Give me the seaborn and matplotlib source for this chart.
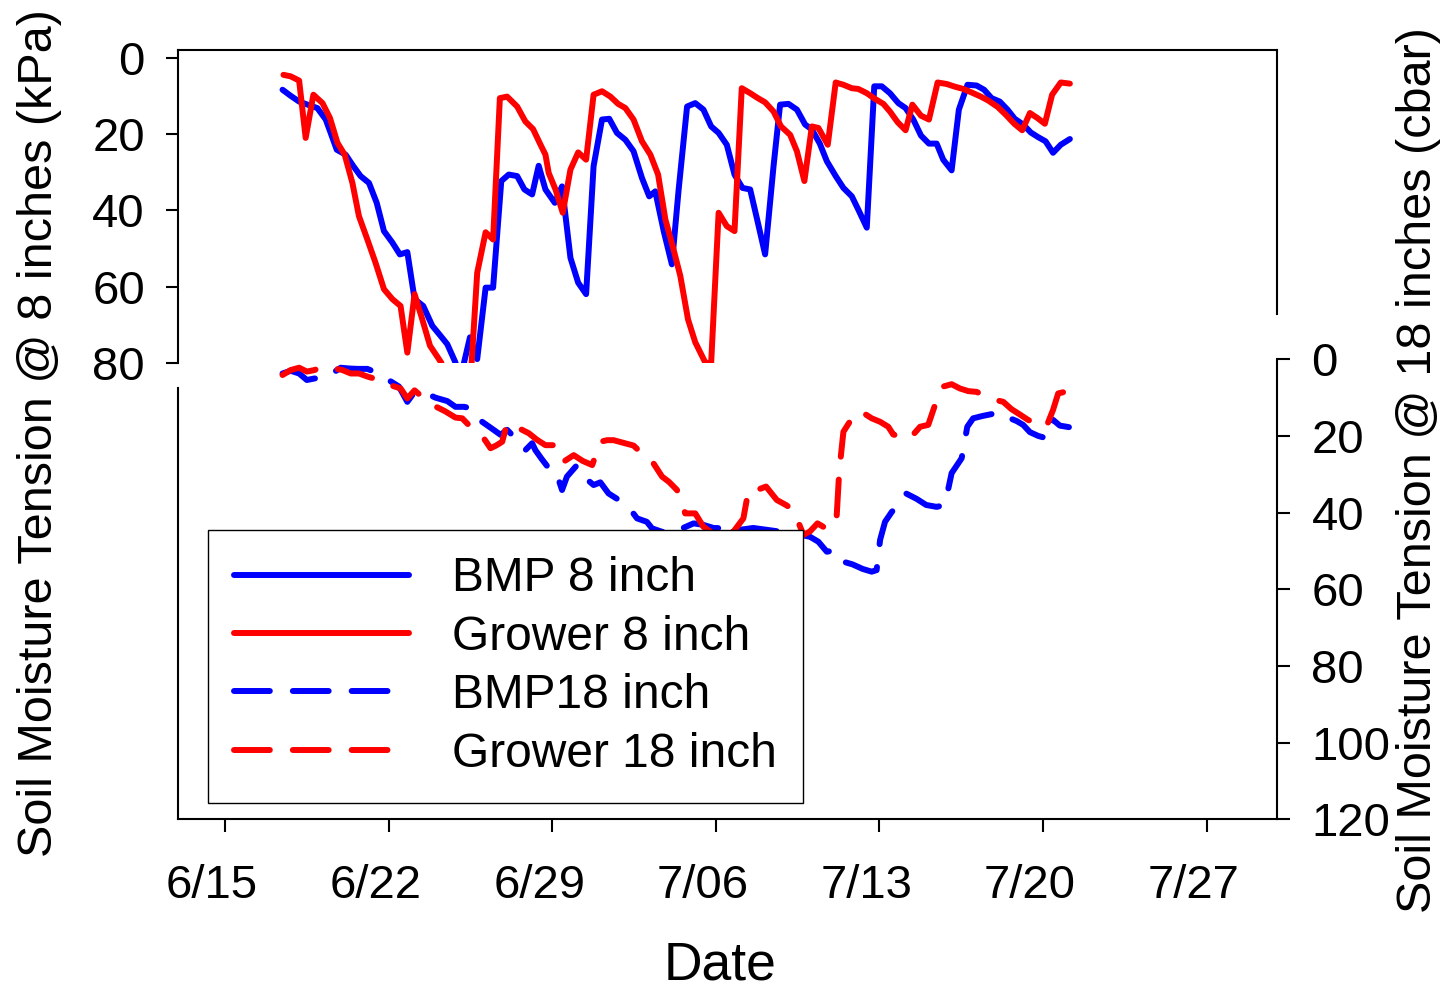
"""
Soil moisture tension at 8 and 18 inch depth, BMP vs grower plots.
Two stacked axes share one date axis (SigmaPlot-style broken frame).
"""

import matplotlib
import matplotlib.pyplot as plt
import matplotlib.transforms as mtransforms
import pandas as pd
import seaborn as sns

matplotlib.use("Agg")

START = pd.Timestamp("2015-06-15")

# --- 8 inch sensors (kPa), days after 6/15 ---------------------------------
bmp8_days = [2.46, 2.81, 3.17, 3.53, 3.95, 4.31, 4.52, 4.78, 5.16, 5.49, 5.80, 6.16, 6.49, 6.80,
             7.16, 7.48, 7.80, 8.11, 8.48, 8.87, 9.22, 9.51, 9.86, 10.04, 10.22, 10.48, 10.79,
             11.15, 11.47, 11.82, 12.14, 12.50, 12.81, 13.14, 13.42, 13.71, 14.11, 14.42, 14.78,
             15.11, 15.45, 15.77, 16.13, 16.44, 16.77, 17.13, 17.48, 17.84, 18.15, 18.41, 18.77,
             19.12, 19.41, 19.77, 20.12, 20.47, 20.80, 21.12, 21.47, 21.80, 22.14, 22.47, 22.80,
             23.11, 23.47, 23.75, 24.11, 24.47, 24.82, 25.11, 25.45, 25.75, 26.13, 26.46, 26.82,
             27.13, 27.46, 27.78, 28.10, 28.45, 28.81, 29.12, 29.45, 29.78, 30.12, 30.45, 30.73,
             31.09, 31.40, 31.77, 32.16, 32.48, 32.80, 33.15, 33.48, 33.79, 34.15, 34.48, 34.79,
             35.11, 35.43, 35.76, 36.15]
bmp8_kpa = [8.4, 10.0, 11.5, 12.3, 13.2, 16.2, 19.7, 24.1, 25.4, 28.4, 31.0, 32.8, 38.0, 45.4,
            48.4, 51.5, 50.9, 63.2, 65.0, 70.2, 72.8, 75.0, 79.8, 86.0, 80.0, 73.2, 78.9,
            60.2, 60.2, 32.3, 30.6, 31.0, 34.5, 35.8, 28.3, 34.5, 38.0, 33.7, 52.4,
            58.9, 61.9, 28.4, 16.2, 16.0, 19.7, 21.5, 24.5, 31.5, 36.3, 35.0, 45.4,
            54.1, 34.5, 12.8, 11.9, 13.6, 18.0, 19.7, 22.8, 30.6, 34.1, 34.5, 43.2,
            51.5, 28.4, 12.3, 12.1, 13.6, 17.5, 18.8, 22.5, 27.1, 31.0, 34.1, 36.3,
            40.2, 44.5, 7.5, 7.5, 9.3, 11.9, 13.2, 16.2, 20.4, 22.5, 22.5, 26.7,
            29.5, 13.6, 7.1, 7.3, 8.4, 10.6, 11.5, 13.6, 16.0, 17.5, 19.6, 20.8,
            21.9, 24.9, 22.8, 21.3]

grower8_days = [2.50, 2.81, 3.17, 3.45, 3.78, 4.17, 4.49, 4.81, 5.12, 5.45, 5.73, 6.09, 6.44,
                6.80, 7.16, 7.51, 7.80, 8.11, 8.44, 8.77, 9.25, 9.60, 10.20, 10.55, 10.79,
                11.15, 11.47, 11.76, 12.07, 12.50, 12.85, 13.18, 13.50, 13.71, 13.85, 14.14,
                14.45, 14.78, 15.11, 15.45, 15.77, 16.13, 16.49, 16.82, 17.13, 17.48, 17.84,
                18.20, 18.53, 18.84, 19.19, 19.48, 19.81, 20.12, 20.55, 20.80, 21.12, 21.47,
                21.80, 22.11, 22.47, 22.80, 23.11, 23.47, 23.79, 24.18, 24.47, 24.79, 25.11,
                25.39, 25.79, 26.13, 26.46, 26.82, 27.10, 27.46, 27.81, 28.17, 28.45, 28.78,
                29.12, 29.41, 29.78, 30.12, 30.49, 30.88, 31.23, 31.59, 31.94, 32.34, 32.65,
                33.06, 33.40, 33.77, 34.11, 34.44, 34.76, 35.08, 35.39, 35.76, 36.15]
grower8_kpa = [4.5, 4.9, 6.0, 21.0, 9.7, 11.9, 15.8, 22.3, 25.4, 32.8, 41.5, 47.6, 53.7,
               60.6, 63.2, 65.0, 77.2, 61.9, 68.5, 75.4, 79.8, 88.0, 90.0, 80.0, 56.3,
               45.7, 47.6, 10.6, 10.2, 12.8, 16.7, 18.7, 22.8, 25.4, 30.2, 34.5,
               40.6, 29.3, 24.8, 26.7, 9.7, 8.8, 10.2, 12.1, 13.2, 16.2, 21.9,
               25.4, 30.6, 42.3, 50.2, 57.1, 68.5, 74.5, 79.8, 80.0, 40.6, 44.1,
               45.4, 8.0, 9.3, 10.6, 11.7, 14.1, 18.0, 20.2, 24.5, 32.3, 18.0,
               18.4, 22.8, 6.5, 7.1, 8.0, 8.2, 9.3, 10.8, 12.1, 14.1, 16.9,
               19.0, 12.3, 15.2, 16.2, 6.5, 6.9, 7.6, 8.2, 9.1, 10.2, 11.2,
               12.9, 14.9, 17.3, 19.0, 14.5, 15.8, 17.3, 9.7, 6.5, 6.8]

# --- 18 inch sensors (cbar), days after 6/15 -------------------------------
bmp18_days = [2.46, 2.81, 3.17, 3.50, 3.83, 4.17, 4.55, 4.95, 5.31, 5.66, 6.09, 6.37, 6.73,
              7.10, 7.44, 7.80, 8.11, 8.51, 9.00, 9.51, 9.86, 10.22, 10.58, 11.00, 11.40,
              11.79, 12.07, 12.50, 12.85, 13.14, 13.28, 13.55, 13.85, 14.14, 14.42, 14.63,
              15.06, 15.42, 15.77, 16.06, 16.41, 16.80, 17.20, 17.63, 18.05, 18.27, 18.70,
              19.20, 19.60, 20.05, 20.47, 20.90, 21.40, 22.00, 22.60, 23.20, 23.80, 24.40,
              25.03, 25.39, 25.75, 26.10, 26.46, 26.85, 27.29, 27.67, 27.88, 28.03, 28.24,
              28.53, 28.81, 29.14, 29.59, 30.00, 30.45, 30.80, 31.09, 31.52, 31.76, 32.01,
              32.40, 32.80, 33.15, 33.51, 33.87, 34.15, 34.44, 34.80, 35.15, 35.43, 35.72,
              36.11]
bmp18_cbar = [3.7, 3.0, 3.7, 5.4, 5.0, 5.0, 3.8, 2.2, 2.4, 2.5, 2.5, 3.2, 4.5,
              5.8, 7.1, 11.1, 8.5, 8.6, 10.0, 10.9, 12.4, 12.4, 12.8, 16.3, 18.0,
              19.7, 18.4, 21.1, 23.7, 21.9, 23.7, 26.0, 28.4, 28.9, 34.1, 30.6,
              27.6, 31.0, 32.8, 32.1, 35.0, 36.5, 38.0, 41.5, 42.4, 44.1, 45.0,
              45.5, 44.0, 42.8, 43.2, 44.0, 44.1, 44.5, 44.0, 44.5, 45.0, 45.5,
              46.3, 47.6, 50.2, 49.8, 52.8, 53.5, 54.7, 55.4, 55.0, 47.1, 42.4,
              39.8, 38.0, 35.0, 36.4, 38.0, 38.5, 38.0, 29.7, 25.8, 17.6, 15.4,
              14.8, 14.3, 13.8, 15.2, 16.1, 17.1, 19.0, 20.0, 20.6, 15.8, 17.3,
              17.7]

grower18_days = [2.46, 2.81, 3.17, 3.50, 3.83, 4.17, 4.60, 5.02, 5.38, 5.73, 6.09, 6.37, 6.73,
                 7.10, 7.51, 7.80, 8.11, 8.51, 8.94, 9.40, 9.86, 10.15, 10.50, 10.86, 11.07,
                 11.36, 11.60, 11.86, 12.07, 12.43, 12.71, 13.00, 13.35, 13.71, 14.14, 14.49,
                 14.92, 15.30, 15.71, 16.06, 16.35, 16.63, 17.05, 17.48, 17.91, 18.20, 18.70,
                 19.00, 19.34, 19.69, 20.12, 20.47, 20.90, 21.30, 21.75, 22.18, 22.40, 22.76,
                 23.15, 23.61, 24.00, 24.32, 24.75, 25.03, 25.35, 25.82, 26.17, 26.28, 26.46,
                 26.96, 27.24, 27.67, 28.03, 28.38, 28.59, 29.00, 29.31, 29.74, 30.09, 30.38,
                 30.73, 31.09, 31.44, 31.80, 32.16, 32.51, 32.90, 33.30, 33.65, 34.01, 34.36,
                 34.86, 35.15, 35.43, 35.65, 36.07]
grower18_cbar = [4.1, 2.8, 2.2, 3.2, 2.8, 1.9, 2.3, 2.8, 3.7, 3.7, 4.5, 5.0, 6.3,
                 6.8, 7.6, 10.2, 8.1, 10.2, 12.1, 13.5, 15.2, 15.4, 17.6, 19.7, 20.6,
                 23.2, 22.5, 21.5, 16.7, 17.6, 18.4, 19.3, 21.0, 22.4, 22.4, 26.7,
                 25.0, 26.5, 27.6, 21.5, 21.1, 21.1, 21.8, 22.5, 25.0, 25.9, 30.6,
                 32.0, 34.1, 40.2, 40.2, 43.7, 45.5, 46.0, 45.0, 41.5, 34.1, 34.1,
                 33.2, 36.7, 38.0, 39.3, 45.8, 44.9, 42.8, 44.5, 41.1, 29.3, 18.9,
                 14.1, 13.7, 15.4, 16.3, 17.6, 19.6, 20.5, 20.6, 17.6, 17.1, 11.9,
                 7.1, 6.5, 7.6, 8.3, 8.5, 9.5, 10.5, 11.1, 13.0, 14.4, 15.8,
                 17.3, 17.5, 13.2, 8.9, 8.3]

TICK_DAYS = [0, 7, 14, 21, 28, 35, 42]
TICK_LABELS = ["6/15", "6/22", "6/29", "7/06", "7/13", "7/20", "7/27"]
TOP_YTICKS = [0, 20, 40, 60, 80]
BOT_YTICKS = [0, 20, 40, 60, 80, 100, 120]
LEGEND_LABELS = ["BMP 8 inch", "Grower 8 inch", "BMP18 inch", "Grower 18 inch"]

BLUE = "#0000ff"
RED = "#ff0000"
W, H = 1444, 993


def to_dates(days):
    return START + pd.to_timedelta(days, unit="D")


def px_axes(fig, left, top, right, bottom, **kw):
    return fig.add_axes([left / W, 1 - bottom / H, (right - left) / W, (bottom - top) / H], **kw)


def draw_series(ax, days, values, color, dashed=False):
    sns.lineplot(x=to_dates(days), y=values, ax=ax, color=color, linewidth=4.3,
                 estimator=None, sort=False)
    line = ax.lines[-1]
    line.set_solid_capstyle("round")
    line.set_solid_joinstyle("round")
    if dashed:
        line.set_linestyle((0, (6, 3.85)))
        line.set_dash_capstyle("round")
        line.set_dash_joinstyle("round")
    return line


def main() -> None:
    sns.set_style("white")
    plt.rcParams["font.family"] = ["Liberation Sans", "DejaVu Sans"]
    plt.rcParams["axes.edgecolor"] = "black"
    plt.rcParams["axes.linewidth"] = 1.5
    plt.rcParams["text.color"] = "black"
    plt.rcParams["axes.labelcolor"] = "black"
    plt.rcParams["xtick.color"] = "black"
    plt.rcParams["ytick.color"] = "black"

    fig = plt.figure(figsize=(W / 100, H / 100), dpi=100)
    ax_top = px_axes(fig, 178.3, 50, 1276.7, 363.3)
    ax_bot = px_axes(fig, 178.3, 359.3, 1276.7, 819.3, sharex=ax_top)
    for ax in (ax_top, ax_bot):
        ax.set_facecolor("none")

    h_bmp8 = draw_series(ax_top, bmp8_days, bmp8_kpa, BLUE)
    h_gr8 = draw_series(ax_top, grower8_days, grower8_kpa, RED)
    h_bmp18 = draw_series(ax_bot, bmp18_days, bmp18_cbar, BLUE, dashed=True)
    h_gr18 = draw_series(ax_bot, grower18_days, grower18_cbar, RED, dashed=True)

    # top panel: 8 inch, left axis
    ax_top.set_ylim(80, -2)
    ax_top.set_yticks(TOP_YTICKS)
    ax_top.spines["bottom"].set_visible(False)
    ax_top.spines["right"].set_bounds(-2, 67.2)
    ax_top.tick_params(axis="y", left=True, right=False, direction="out", length=9,
                       width=1.5, labelsize=34, pad=15, labelcolor="black")
    ax_top.tick_params(axis="x", bottom=False, top=False, labelbottom=False)

    # bottom panel: 18 inch, right axis
    ax_bot.set_ylim(120, 0)
    ax_bot.yaxis.tick_right()
    ax_bot.set_yticks(BOT_YTICKS)
    ax_bot.spines["top"].set_visible(False)
    ax_bot.spines["left"].set_bounds(7.4, 120)
    ax_bot.tick_params(axis="y", left=False, labelleft=False, right=True, labelright=True,
                       direction="out", length=9, width=1.5, labelsize=34, pad=16,
                       labelcolor="black")
    ax_bot.tick_params(axis="x", bottom=True, direction="out", length=9, width=1.5,
                       labelsize=34, pad=23, labelcolor="black")

    ax_bot.set_xticks(to_dates(TICK_DAYS))
    ax_bot.set_xticklabels(TICK_LABELS)
    ax_bot.set_xlim(to_dates([-2])[0], to_dates([45])[0])
    shift = mtransforms.ScaledTranslation(-13 / 100, 0, fig.dpi_scale_trans)
    for lab in ax_bot.get_xticklabels():
        lab.set_transform(lab.get_transform() + shift)

    for ax in (ax_top, ax_bot):
        ax.set_xlabel("")
        ax.set_ylabel("")

    leg = ax_bot.legend([h_bmp8, h_gr8, h_bmp18, h_gr18], LEGEND_LABELS,
                        loc="lower left", bbox_to_anchor=(0.027, 0.0354), borderaxespad=0,
                        fontsize=34.5, handlelength=3.64, handletextpad=0.9,
                        labelspacing=0.28, borderpad=0.55, frameon=True, fancybox=False,
                        edgecolor="black", framealpha=1, labelcolor="black")
    leg.get_frame().set_linewidth(1.0)

    fig.text(720 / W, 0.003, "Date", ha="center", va="bottom", fontsize=38.5)
    fig.text(52 / W, 1 - 433 / H, "Soil Moisture Tension @ 8 inches (kPa)", rotation=90,
             rotation_mode="anchor", ha="center", va="baseline", fontsize=35)
    fig.text(1431 / W, 1 - 470 / H, "Soil Moisture Tension @ 18 inches (cbar)", rotation=90,
             rotation_mode="anchor", ha="center", va="baseline", fontsize=35)

    fig.savefig("out.png", dpi=100)
    plt.close(fig)


if __name__ == "__main__":
    main()
